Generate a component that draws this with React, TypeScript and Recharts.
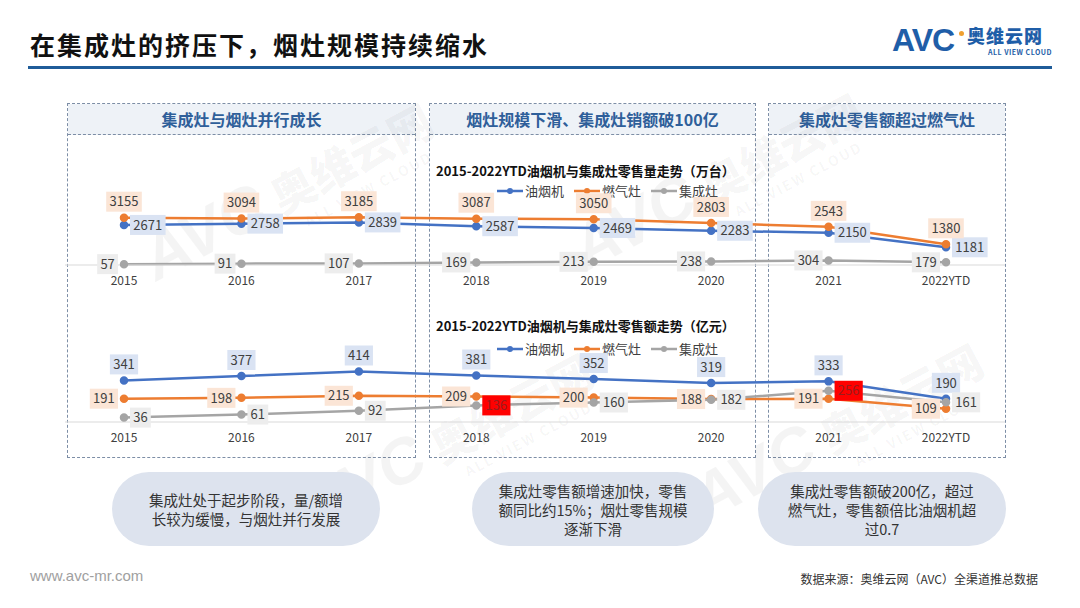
import React from 'react'
import { LineChart, Line, XAxis, YAxis, LabelList } from 'recharts'

const years = ['2015', '2016', '2017', '2018', '2019', '2020', '2021', '2022YTD']
const seriesNames = ['油烟机', '燃气灶', '集成灶']

// 零售量 (万台)
const volHood = [2671, 2758, 2839, 2587, 2469, 2283, 2150, 1181]
const volStove = [3155, 3094, 3185, 3087, 3050, 2803, 2543, 1380]
const volIntegrated = [57, 91, 107, 169, 213, 238, 304, 179]

// 零售额 (亿元)
const salesHood = [341, 377, 414, 381, 352, 319, 333, 190]
const salesStove = [191, 198, 215, 209, 200, 188, 191, 109]
const salesIntegrated = [36, 61, 92, 136, 160, 182, 256, 161]
const salesHighlight = [3, 6]

const volumeData = years.map((y, i) => ({ year: y, hood: volHood[i], stove: volStove[i], integrated: volIntegrated[i] }))
const salesData = years.map((y, i) => ({ year: y, hood: salesHood[i], stove: salesStove[i], integrated: salesIntegrated[i] }))

const FONT = '"Noto Sans CJK SC", "Noto Sans", sans-serif'
const LINE = ['#4472c4', '#ed7d31', '#a5a5a5']
const BOXFILL = ['#dae3f3', '#fbe5d6', '#ededed']

function makeLabel(side: string, boxFill: string, redIdx: number[] = []) {
    return (props: any) => {
        const { x, y, value, index } = props
        const red = redIdx.includes(index)
        const txt = String(value)
        const w = txt.length * 7.4 + 6
        const h = 20
        let cx = x
        let cy = y
        if (side === 'top') cy = y - 16
        if (side === 'right') cx = x + 6 + w / 2
        if (side === 'left') cx = x - 6 - w / 2
        return (
            <g>
                <rect x={cx - w / 2} y={cy - h / 2} width={w} height={h} fill={red ? '#ff0000' : boxFill} />
                <text x={cx} y={cy} dy="0.36em" textAnchor="middle" fontSize={13} fontFamily={FONT} fill={red ? '#9c1c1c' : '#404040'}>{txt}</text>
            </g>
        )
    }
}

function LegendRow({ top }: { top: number }) {
    return (
        <div style={{ position: 'absolute', left: 497, top, display: 'flex', fontSize: 13, color: '#404040', gap: 10 }}>
            {seriesNames.map((n, i) => (
                <div key={n} style={{ display: 'flex', alignItems: 'center' }}>
                    <svg width={26} height={10}><line x1={0} y1={5} x2={26} y2={5} stroke={LINE[i]} strokeWidth={2.5} /><circle cx={13} cy={5} r={3} fill={LINE[i]} /></svg>
                    <span style={{ marginLeft: 2 }}>{n}</span>
                </div>
            ))}
        </div>
    )
}

function Watermark({ x, y }: { x: number, y: number }) {
    return (
        <div style={{ position: 'absolute', left: x, top: y, transform: 'rotate(-28deg)', color: 'rgba(0,0,0,0.045)', whiteSpace: 'nowrap', pointerEvents: 'none' }}>
            <span style={{ fontSize: 64, fontWeight: 900, fontStyle: 'italic', fontFamily: 'Liberation Sans' }}>AVC</span>
            <span style={{ fontSize: 44, fontWeight: 900, marginLeft: 12 }}>奥维云网</span>
            <div style={{ fontSize: 14, fontWeight: 700, marginLeft: 160, marginTop: -8, letterSpacing: 2 }}>ALL VIEW CLOUD</div>
        </div>
    )
}

const boxes = [
    { left: 67, width: 349, title: '集成灶与烟灶并行成长' },
    { left: 429, width: 327, title: '烟灶规模下滑、集成灶销额破100亿' },
    { left: 768, width: 238, title: '集成灶零售额超过燃气灶' },
]

const notes = [
    { left: 112, width: 268, lines: ['集成灶处于起步阶段，量/额增', '长较为缓慢，与烟灶并行发展'] },
    { left: 472, width: 242, lines: ['集成灶零售额增速加快，零售', '额同比约15%；烟灶零售规模', '逐渐下滑'] },
    { left: 758, width: 248, lines: ['集成灶零售额破200亿，超过', '燃气灶，零售额倍比油烟机超', '过0.7'] },
]

export default function App() {
    const keys = ['hood', 'stove', 'integrated']
    const volSides = ['right', 'top', 'left']
    const salesSides = ['top', 'left', 'right']
    const axisTick = { fontSize: 12, fill: '#404040', fontFamily: FONT, dy: 3 }
    return (
        <div style={{ position: 'absolute', left: 0, top: 0, width: 1080, height: 608, background: '#fff', overflow: 'hidden', fontFamily: FONT }}>
            <div style={{ position: 'absolute', left: 30, top: 26, fontSize: 25, fontWeight: 600, color: '#111', letterSpacing: 2 }}>在集成灶的挤压下，烟灶规模持续缩水</div>
            <div style={{ position: 'absolute', left: 28, top: 66, width: 1024, height: 3, background: '#1f5c99' }} />

            {/* logo */}
            <div style={{ position: 'absolute', left: 892, top: 22, fontSize: 32, fontWeight: 900, color: '#1f5ea8', fontFamily: 'Liberation Sans', letterSpacing: -1 }}>AVC</div>
            <div style={{ position: 'absolute', left: 959, top: 31, width: 5, height: 5, borderRadius: 3, background: '#f0a030' }} />
            <div style={{ position: 'absolute', left: 967, top: 24, fontSize: 18, fontWeight: 800, color: '#1f5ea8', letterSpacing: 1, lineHeight: '22px' }}>奥维云网</div>
            <div style={{ position: 'absolute', left: 988, top: 48, fontSize: 7, fontWeight: 700, color: '#1f5ea8', letterSpacing: 0.5, lineHeight: '8px' }}>ALL VIEW CLOUD</div>

            {boxes.map(b => (
                <div key={b.title} style={{ position: 'absolute', left: b.left, top: 103, width: b.width, height: 355, border: '1px dashed #7d8ea6', boxSizing: 'border-box' }}>
                    <div style={{ height: 30, background: '#eef2f7', borderBottom: '1px dashed #7d8ea6', textAlign: 'center', lineHeight: '30px', fontSize: 16, fontWeight: 700, color: '#2f5f9a' }}>{b.title}</div>
                </div>
            ))}

            <Watermark x={130} y={150} />
            <Watermark x={560} y={140} />
            <Watermark x={290} y={400} />
            <Watermark x={680} y={390} />

            <div style={{ position: 'absolute', left: 436, top: 161, fontSize: 13, fontWeight: 700, color: '#111' }}>2015-2022YTD油烟机与集成灶零售量走势（万台）</div>
            <LegendRow top={181} />
            <div style={{ position: 'absolute', left: 65, top: 140 }}>
                <LineChart width={940} height={150} data={volumeData} margin={{ top: 5, right: 0, left: 0, bottom: 0 }}>
                    <XAxis dataKey="year" height={25} padding={{ left: 59, right: 59 }} tickLine={false} axisLine={{ stroke: '#d9d9d9' }} tick={axisTick} />
                    <YAxis hide domain={[0, 8000]} />
                    {keys.map((k, i) => (
                        <Line key={k} dataKey={k} name={seriesNames[i]} stroke={LINE[i]} strokeWidth={2.5} dot={{ r: 3, fill: LINE[i], stroke: LINE[i] }} isAnimationActive={false}>
                            <LabelList dataKey={k} content={makeLabel(volSides[i], BOXFILL[i])} />
                        </Line>
                    ))}
                </LineChart>
            </div>

            <div style={{ position: 'absolute', left: 436, top: 316, fontSize: 13, fontWeight: 700, color: '#111' }}>2015-2022YTD油烟机与集成灶零售额走势（亿元）</div>
            <LegendRow top={339} />
            <div style={{ position: 'absolute', left: 65, top: 295 }}>
                <LineChart width={940} height={152} data={salesData} margin={{ top: 5, right: 0, left: 0, bottom: 0 }}>
                    <XAxis dataKey="year" height={25} padding={{ left: 59, right: 59 }} tickLine={false} axisLine={{ stroke: '#d9d9d9' }} tick={axisTick} />
                    <YAxis hide domain={[0, 1000]} />
                    {keys.map((k, i) => (
                        <Line key={k} dataKey={k} name={seriesNames[i]} stroke={LINE[i]} strokeWidth={2.5} dot={{ r: 3, fill: LINE[i], stroke: LINE[i] }} isAnimationActive={false}>
                            <LabelList dataKey={k} content={makeLabel(salesSides[i], BOXFILL[i], k === 'integrated' ? salesHighlight : [])} />
                        </Line>
                    ))}
                </LineChart>
            </div>

            {notes.map(n => (
                <div key={n.left} style={{ position: 'absolute', left: n.left, top: 472, width: n.width, height: 74, borderRadius: 37, background: '#dde3ee', display: 'flex', flexDirection: 'column', justifyContent: 'center', alignItems: 'center', fontSize: 14.5, color: '#333', lineHeight: '19px' }}>
                    {n.lines.map(l => <div key={l}>{l}</div>)}
                </div>
            ))}

            <div style={{ position: 'absolute', left: 30, top: 567, fontSize: 15, color: '#a0a0a0', fontFamily: 'Liberation Sans' }}>www.avc-mr.com</div>
            <div style={{ position: 'absolute', right: 42, top: 570, fontSize: 12, color: '#333' }}>数据来源：奥维云网（AVC）全渠道推总数据</div>
        </div>
    )
}
